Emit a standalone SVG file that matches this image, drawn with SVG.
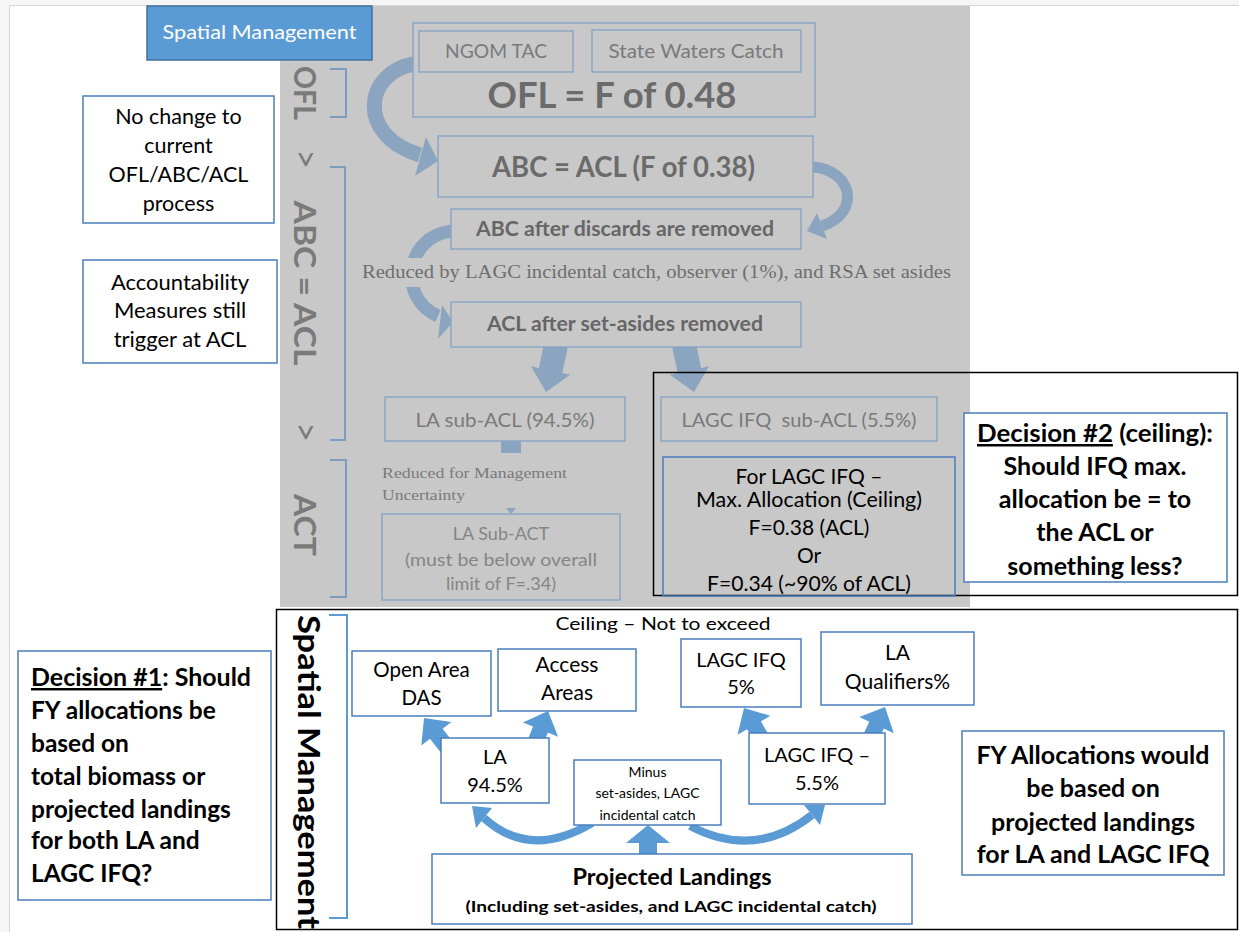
<svg xmlns="http://www.w3.org/2000/svg" width="1239" height="932" viewBox="0 0 1239 932">
<style>
.f{font-family:Lato,"Open Sans","Liberation Sans",sans-serif}
.sf{font-family:"Liberation Serif","Times New Roman",serif}
.gb{fill:#c8c8c8;stroke:#8ba6c4;stroke-width:1.5}
.bb{fill:#fff;stroke:#4a7ebb;stroke-width:1.5}
.gt{fill:#7a7a7a}
.dt{fill:#666}
.k{fill:#000}
.c{text-anchor:middle}
.b{font-weight:bold}
.ga{fill:#8ba4bf}
.ba{fill:#5b9bd5}
.gs{fill:none;stroke:#8ba4bf}
.bs{fill:none;stroke:#5b9bd5}
.br{fill:none;stroke:#7d9cbf;stroke-width:2}
</style>
<defs>
<polygon id="gdown" points="-12,-48 12,-48 12,-22 20,-22 0,0 -20,-22 -12,-22"/>
<polygon id="bup" points="0,0 19,20 8,20 8,40 -8,40 -8,20 -19,20"/>
</defs>
<rect width="1239" height="932" fill="#fff"/>
<rect x="0" y="0" width="9" height="932" fill="#f6f6f6"/>
<rect x="0" y="0" width="1239" height="5" fill="#f6f6f6"/>
<path d="M9.5,932 V5.5 H1239" fill="none" stroke="#d6d6d6"/>
<rect id="panel" x="280" y="6" width="690" height="601" fill="#c8c8c8"/>

<g id="connectors">
<path class="gs" stroke-width="15" d="M414,64 C365,72 355,135 420,155"/>
<polygon class="ga" points="438,161 426,137 415,176"/>
<path class="gs" stroke-width="11" d="M813,167 C852,170 862,212 822,226"/>
<polygon class="ga" points="807,231 817,213 827,239"/>
<path class="gs" stroke-width="13" d="M452,231 C405,236 397,298 438,316"/>
<polygon class="ga" points="453,322 442,305 438,339"/>
<use href="#gdown" class="ga" transform="translate(546,392) rotate(12)"/>
<use href="#gdown" class="ga" transform="translate(694,392) rotate(-12)"/>
<rect class="ga" x="501" y="441" width="20" height="12"/>
<polygon class="ga" points="506,508 516,508 511,514"/>
<polygon class="ba" points="648,825 670,843 657,843 657,855 639,855 639,843 626,843"/>
<use href="#bup" class="ba" transform="translate(424,718) rotate(-38)"/>
<use href="#bup" class="ba" transform="translate(548,711) rotate(22)"/>
<use href="#bup" class="ba" transform="translate(744,708) rotate(-30)"/>
<use href="#bup" class="ba" transform="translate(885,707) rotate(25)"/>
<path class="bs" stroke-width="8" d="M592,823 Q530,860 484,818"/>
<polygon class="ba" points="472,806 492,808 476,828"/>
<path class="bs" stroke-width="8" d="M690,826 Q755,860 812,815"/>
<polygon class="ba" points="825,805 820,825 804,805"/>
</g>

<g id="spatial-title">
<rect x="147" y="6" width="225" height="54" fill="#5b9bd5" stroke="#41719c" stroke-width="1.5"/>
<text class="f c" x="259.5" y="39" font-size="20" fill="#fff" textLength="194" lengthAdjust="spacingAndGlyphs">Spatial Management</text>
</g>

<g id="ofl">
<rect class="gb" x="413" y="23" width="402" height="94"/>
<text class="f c b" x="612" y="108" font-size="36" fill="#6b6b6b" textLength="249" lengthAdjust="spacingAndGlyphs">OFL = F of 0.48</text>
</g>
<g id="ngom">
<rect class="gb" x="419" y="31" width="154" height="41"/>
<text class="f c gt" x="496" y="58" font-size="19" textLength="102" lengthAdjust="spacingAndGlyphs">NGOM TAC</text>
</g>
<g id="state">
<rect class="gb" x="592" y="30" width="209" height="42"/>
<text class="f c gt" x="696" y="58" font-size="19" textLength="175" lengthAdjust="spacingAndGlyphs">State Waters Catch</text>
</g>
<g id="abc">
<rect class="gb" x="438" y="136" width="375" height="61"/>
<text class="f c b" x="623.5" y="177" font-size="28" fill="#6b6b6b" textLength="263" lengthAdjust="spacingAndGlyphs">ABC = ACL (F of 0.38)</text>
</g>
<g id="abc-discards">
<rect class="gb" x="451" y="209" width="350" height="40"/>
<text class="f c b dt" x="625" y="236" font-size="20" textLength="298" lengthAdjust="spacingAndGlyphs">ABC after discards are removed</text>
</g>
<g id="reduced-note">
<rect x="356" y="258" width="600" height="29" fill="#c8c8c8"/>
<text class="sf" x="362" y="278" font-size="19" fill="#6e6e6e" textLength="589" lengthAdjust="spacingAndGlyphs">Reduced by LAGC incidental catch, observer (1%), and RSA set asides</text>
</g>
<g id="acl-setasides">
<rect class="gb" x="451" y="302" width="350" height="45"/>
<text class="f c b dt" x="625" y="331" font-size="20" textLength="276" lengthAdjust="spacingAndGlyphs">ACL after set-asides removed</text>
</g>
<g id="la-subacl">
<rect class="gb" x="385" y="397" width="240" height="44"/>
<text class="f c gt" x="505" y="427" font-size="19" textLength="179" lengthAdjust="spacingAndGlyphs">LA sub-ACL (94.5%)</text>
</g>
<g id="lagc-subacl">
<rect class="gb" x="661" y="397" width="276" height="44"/>
<text class="f c gt" x="799" y="427" font-size="19" textLength="235" lengthAdjust="spacingAndGlyphs">LAGC IFQ&#160; sub-ACL (5.5%)</text>
</g>
<g id="mgmt-uncertainty">
<text class="sf" x="382" y="478" font-size="15" fill="#7a7a7a" textLength="185" lengthAdjust="spacingAndGlyphs">Reduced for Management</text>
<text class="sf" x="382" y="500" font-size="15" fill="#7a7a7a" textLength="83" lengthAdjust="spacingAndGlyphs">Uncertainty</text>
</g>
<g id="la-subact">
<rect class="gb" x="382" y="514" width="238" height="86"/>
<text class="f c" x="501" y="540" font-size="18" fill="#858585">LA Sub-ACT</text>
<text class="f c" x="501" y="566" font-size="18" fill="#858585" textLength="192" lengthAdjust="spacingAndGlyphs">(must be below overall</text>
<text class="f c" x="501" y="590" font-size="18" fill="#858585">limit of F=.34)</text>
</g>

<g id="labels">
<text class="f c b gt" transform="translate(294,93) rotate(90)" font-size="30" textLength="54" lengthAdjust="spacingAndGlyphs">OFL</text>
<text class="f c gt" transform="translate(294,159) rotate(90)" font-size="34">&gt;</text>
<text class="f c b gt" transform="translate(294,283) rotate(90)" font-size="30" textLength="165" lengthAdjust="spacingAndGlyphs">ABC = ACL</text>
<text class="f c gt" transform="translate(294,432) rotate(90)" font-size="34">&gt;</text>
<text class="f c b gt" transform="translate(294,525) rotate(90)" font-size="30" textLength="62" lengthAdjust="spacingAndGlyphs">ACT</text>
<path class="br" d="M330,69 H346 V117 H330"/>
<path class="br" d="M330,167 H345 V440 H330"/>
<path class="br" d="M330,460 H346 V597 H330"/>
</g>

<g id="no-change">
<rect class="bb" x="83" y="96" width="191" height="127"/>
<text class="f c k" x="178.5" y="124" font-size="21.5">No change to</text>
<text class="f c k" x="178.5" y="153" font-size="21.5">current</text>
<text class="f c k" x="178.5" y="182" font-size="21.5">OFL/ABC/ACL</text>
<text class="f c k" x="178.5" y="211" font-size="21.5">process</text>
</g>
<g id="accountability">
<rect class="bb" x="83" y="260" width="194" height="103"/>
<text class="f c k" x="180" y="290" font-size="22">Accountability</text>
<text class="f c k" x="180" y="318" font-size="22">Measures still</text>
<text class="f c k" x="180" y="347" font-size="22">trigger at ACL</text>
</g>

<g id="decision2-frame">
<rect x="653.5" y="372.5" width="584" height="223" fill="none" stroke="#000" stroke-width="1.5"/>
</g>
<g id="lagc-ceiling">
<rect x="663" y="457" width="292" height="139" fill="none" stroke="#4a7ebb" stroke-width="1.5"/>
<text class="f c k" x="809" y="484" font-size="21">For LAGC IFQ –</text>
<text class="f c k" x="809" y="507" font-size="21" textLength="226" lengthAdjust="spacingAndGlyphs">Max. Allocation (Ceiling)</text>
<text class="f c k" x="809" y="535" font-size="21">F=0.38 (ACL)</text>
<text class="f c k" x="809" y="563" font-size="21">Or</text>
<text class="f c k" x="809" y="591" font-size="21" textLength="204" lengthAdjust="spacingAndGlyphs">F=0.34 (~90% of ACL)</text>
</g>
<g id="decision2">
<rect class="bb" x="964" y="413" width="263" height="169"/>
<text class="f c b k" x="1095" y="442" font-size="25" textLength="236" lengthAdjust="spacingAndGlyphs"><tspan text-decoration="underline">Decision #2</tspan> (ceiling):</text>
<text class="f c b k" x="1095" y="475" font-size="25">Should IFQ max.</text>
<text class="f c b k" x="1095" y="508" font-size="25">allocation be = to</text>
<text class="f c b k" x="1095" y="541" font-size="25">the ACL or</text>
<text class="f c b k" x="1095" y="575" font-size="25">something less?</text>
</g>

<g id="spatial-frame">
<rect x="276.5" y="609.5" width="961" height="320" fill="none" stroke="#000" stroke-width="1.5"/>
<text class="f c b k" transform="translate(298,772) rotate(90)" font-size="30" textLength="314" lengthAdjust="spacingAndGlyphs">Spatial Management</text>
<path d="M329,615 H347 V918 H329" fill="none" stroke="#5b9bd5" stroke-width="2"/>
<text class="f c k" x="663" y="630" font-size="17" textLength="215" lengthAdjust="spacingAndGlyphs">Ceiling – Not to exceed</text>
</g>

<g id="decision1">
<rect class="bb" x="18" y="651" width="253" height="249"/>
<text class="f b k" x="31" y="686" font-size="24.5" textLength="220" lengthAdjust="spacingAndGlyphs"><tspan text-decoration="underline">Decision #1</tspan>: Should</text>
<text class="f b k" x="31" y="719" font-size="24.5">FY allocations be</text>
<text class="f b k" x="31" y="752" font-size="24.5">based on</text>
<text class="f b k" x="31" y="785" font-size="24.5">total biomass or</text>
<text class="f b k" x="31" y="818" font-size="24.5">projected landings</text>
<text class="f b k" x="31" y="849" font-size="24.5">for both LA and</text>
<text class="f b k" x="31" y="882" font-size="24.5">LAGC IFQ?</text>
</g>

<g id="open-area">
<rect class="bb" x="352" y="651" width="139" height="65"/>
<text class="f c k" x="421.5" y="677" font-size="20.5">Open Area</text>
<text class="f c k" x="421.5" y="705" font-size="20.5">DAS</text>
</g>
<g id="access-areas">
<rect class="bb" x="498" y="649" width="138" height="62"/>
<text class="f c k" x="567" y="672" font-size="21">Access</text>
<text class="f c k" x="567" y="700" font-size="21">Areas</text>
</g>
<g id="lagc-5">
<rect class="bb" x="681" y="639" width="120" height="68"/>
<text class="f c k" x="741" y="667" font-size="20">LAGC IFQ</text>
<text class="f c k" x="741" y="694" font-size="20">5%</text>
</g>
<g id="la-qualifiers">
<rect class="bb" x="821" y="632" width="153" height="73"/>
<text class="f c k" x="897.5" y="660" font-size="21">LA</text>
<text class="f c k" x="897.5" y="689" font-size="21">Qualifiers%</text>
</g>
<g id="la-945">
<rect class="bb" x="441" y="738" width="108" height="65"/>
<text class="f c k" x="495" y="764" font-size="20">LA</text>
<text class="f c k" x="495" y="792" font-size="20">94.5%</text>
</g>
<g id="minus">
<rect class="bb" x="574" y="760" width="147" height="65"/>
<text class="f c k" x="647.5" y="777" font-size="14">Minus</text>
<text class="f c k" x="647.5" y="798" font-size="14">set-asides, LAGC</text>
<text class="f c k" x="647.5" y="820" font-size="14">incidental catch</text>
</g>
<g id="lagc-55">
<rect class="bb" x="749" y="733" width="136" height="71"/>
<text class="f c k" x="817" y="762" font-size="20">LAGC IFQ –</text>
<text class="f c k" x="817" y="790" font-size="20">5.5%</text>
</g>
<g id="projected">
<rect class="bb" x="432" y="854" width="480" height="70"/>
<text class="f c b k" x="672" y="885" font-size="22" textLength="199" lengthAdjust="spacingAndGlyphs">Projected Landings</text>
<text class="f c b k" x="671" y="912" font-size="16" textLength="411" lengthAdjust="spacingAndGlyphs">(Including set-asides, and LAGC incidental catch)</text>
</g>
<g id="fy-allocations">
<rect class="bb" x="962" y="731" width="262" height="144"/>
<text class="f c b k" x="1093" y="764" font-size="25">FY Allocations would</text>
<text class="f c b k" x="1093" y="797" font-size="25">be based on</text>
<text class="f c b k" x="1093" y="831" font-size="25">projected landings</text>
<text class="f c b k" x="1093" y="863" font-size="25">for LA and LAGC IFQ</text>
</g>
</svg>
